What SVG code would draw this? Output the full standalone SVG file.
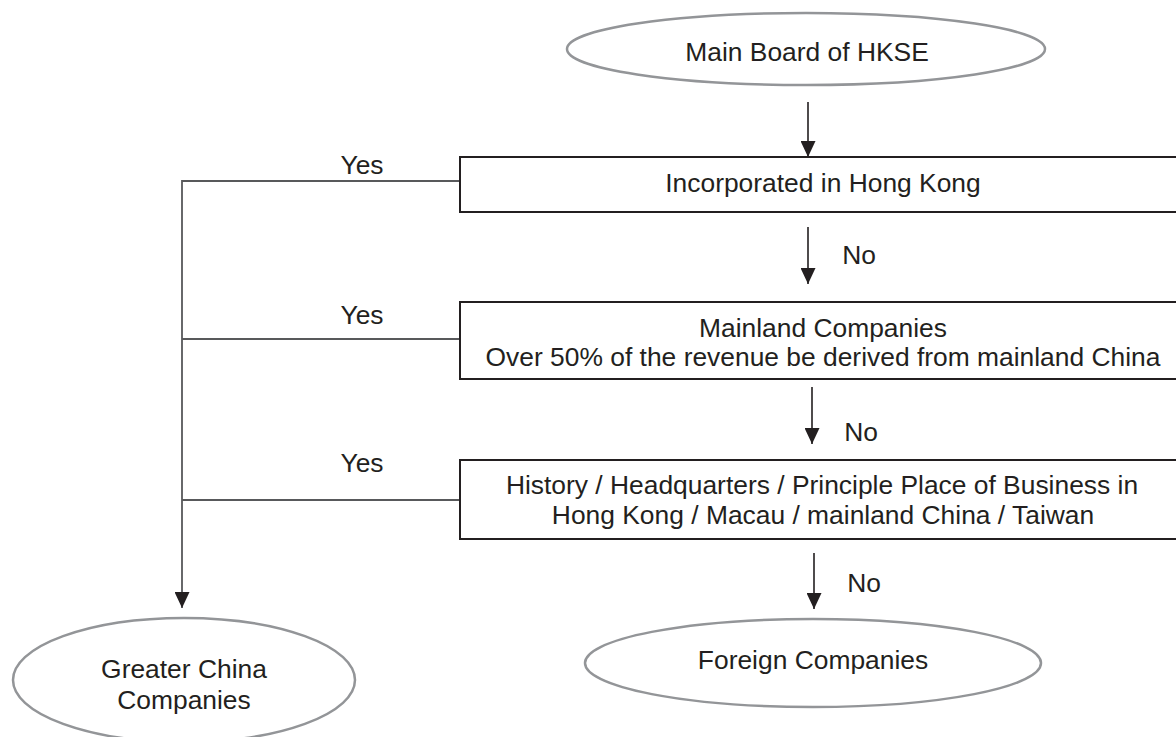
<svg xmlns="http://www.w3.org/2000/svg" width="1176" height="737" viewBox="0 0 1176 737">
<style>
text{font-family:"Liberation Sans",Arial,sans-serif;font-size:26.4px;fill:#231f20;text-anchor:middle;dominant-baseline:central}
.box{fill:#fff;stroke:#231f20;stroke-width:2}
.ell{fill:#fff;stroke:#939598;stroke-width:2.5}
.ln{fill:none;stroke:#231f20;stroke-width:1.6}
.yl{fill:none;stroke:#58595b;stroke-width:1.8}
</style>
<defs>
<marker id="ah" markerUnits="userSpaceOnUse" markerWidth="16" markerHeight="15" refX="16" refY="7.5" orient="auto">
<path d="M0,0 L16,7.5 L0,15 z" fill="#231f20"/>
</marker>
</defs>
<rect width="1176" height="737" fill="#fff"/>
<g id="connectors">
<line class="ln" x1="808" y1="102" x2="808" y2="157" marker-end="url(#ah)"/>
<line class="ln" x1="808" y1="227" x2="808" y2="284" marker-end="url(#ah)"/>
<line class="ln" x1="812" y1="387" x2="812" y2="444" marker-end="url(#ah)"/>
<line class="ln" x1="814" y1="553" x2="814" y2="609" marker-end="url(#ah)"/>
<polyline class="yl" points="460,181 182,181 182,608" marker-end="url(#ah)"/>
<line class="yl" x1="182" y1="339" x2="460" y2="339"/>
<line class="yl" x1="182" y1="500" x2="460" y2="500"/>
<text x="362" y="165">Yes</text>
<text x="362" y="315">Yes</text>
<text x="362" y="463">Yes</text>
<text x="859" y="255">No</text>
<text x="861" y="432">No</text>
<text x="864" y="583">No</text>
</g>
<g id="main-board">
<ellipse class="ell" cx="806" cy="49" rx="239" ry="36"/>
<text x="807" y="52">Main Board of HKSE</text>
</g>
<g id="incorporated">
<rect class="box" x="460" y="157" width="730" height="55"/>
<text x="823" y="183">Incorporated in Hong Kong</text>
</g>
<g id="mainland">
<rect class="box" x="460" y="302" width="730" height="77"/>
<text x="823" y="328">Mainland Companies</text>
<text x="823" y="357">Over 50% of the revenue be derived from mainland China</text>
</g>
<g id="history">
<rect class="box" x="460" y="460" width="730" height="79"/>
<text x="822" y="485">History / Headquarters / Principle Place of Business in</text>
<text x="823" y="515">Hong Kong / Macau / mainland China / Taiwan</text>
</g>
<g id="greater-china">
<ellipse class="ell" cx="184" cy="680" rx="171" ry="62"/>
<text x="184" y="669">Greater China</text>
<text x="184" y="700">Companies</text>
</g>
<g id="foreign">
<ellipse class="ell" cx="813" cy="663" rx="228" ry="44"/>
<text x="813" y="660">Foreign Companies</text>
</g>
</svg>
